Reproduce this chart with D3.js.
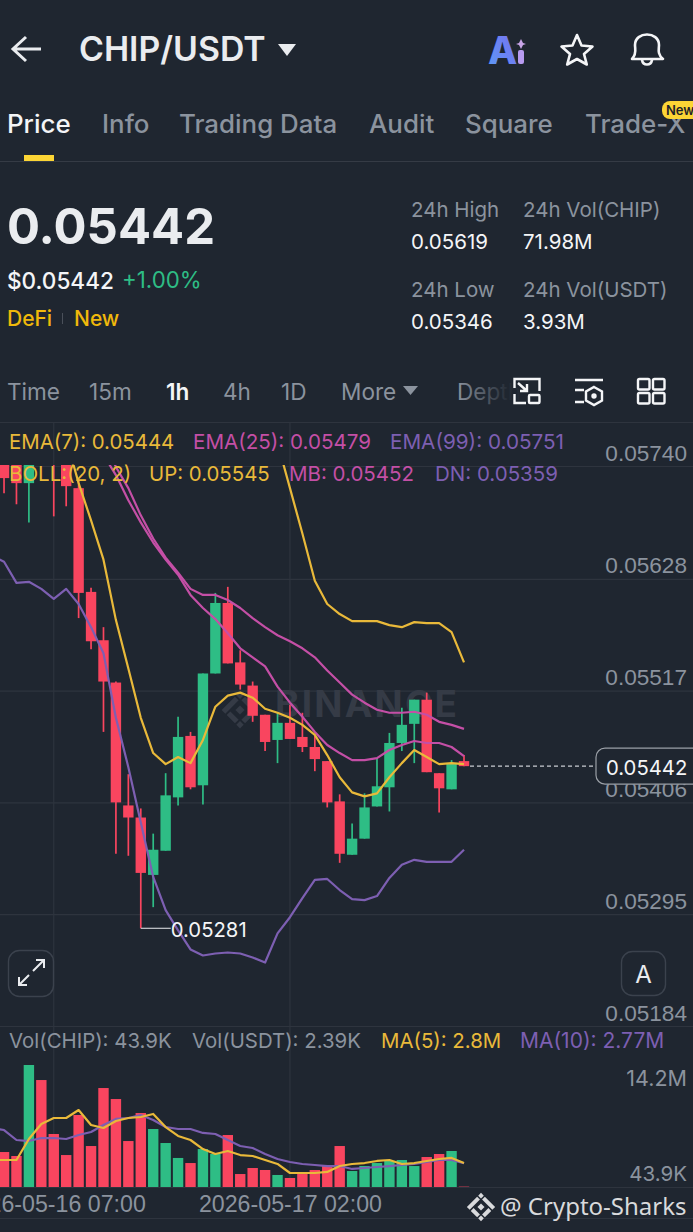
<!DOCTYPE html>
<html>
<head>
<meta charset="utf-8">
<title>CHIP/USDT</title>
<script src="https://cdn.jsdelivr.net/npm/d3@7"></script>
<style>
	html, body { margin: 0; padding: 0; background: #1f2630; }
	svg { display: block; font-family: Inter, "Noto Sans", sans-serif; }
</style>
</head>
<body>
<svg id="chart" width="693" height="1232"></svg>
<script>
// hourly candles, first one sits just off the left edge
var times = d3.utcHour.range(new Date(Date.UTC(2026, 4, 16, 2)), new Date(Date.UTC(2026, 4, 17, 17)));

var opens = [0.05770, 0.05751, 0.05756, 0.05723, 0.05790, 0.05775, 0.05770, 0.05718, 0.05615, 0.05567, 0.05525, 0.05403, 0.05391, 0.05334, 0.05358, 0.05411, 0.05472, 0.05423, 0.05534, 0.05604, 0.05545, 0.05522, 0.05493, 0.05468, 0.05485, 0.05471, 0.05461, 0.05447, 0.05407, 0.05354, 0.05370, 0.05402, 0.05421, 0.05465, 0.05484, 0.05508, 0.05435, 0.05419, 0.05447];
var closes = [0.05760, 0.05728, 0.05723, 0.05761, 0.05780, 0.05755, 0.05720, 0.05614, 0.05566, 0.05526, 0.05406, 0.05391, 0.05336, 0.05359, 0.05413, 0.05471, 0.05421, 0.05534, 0.05604, 0.05544, 0.05523, 0.05492, 0.05466, 0.05485, 0.05469, 0.05461, 0.05449, 0.05406, 0.05355, 0.05370, 0.05401, 0.05422, 0.05465, 0.05483, 0.05508, 0.05436, 0.05420, 0.05445, 0.05442];
var highs = [0.05780, 0.05760, 0.05765, 0.05770, 0.05800, 0.05790, 0.05790, 0.05726, 0.05619, 0.05580, 0.05526, 0.05434, 0.05400, 0.05375, 0.05435, 0.05491, 0.05476, 0.05534, 0.05614, 0.05620, 0.05557, 0.05526, 0.05493, 0.05495, 0.05503, 0.05495, 0.05473, 0.05447, 0.05414, 0.05385, 0.05415, 0.05450, 0.05475, 0.05500, 0.05508, 0.05515, 0.05435, 0.05448, 0.05453];
var lows = [0.05750, 0.05713, 0.05702, 0.05684, 0.05765, 0.05690, 0.05700, 0.05589, 0.05558, 0.05476, 0.05355, 0.05353, 0.05281, 0.05302, 0.05358, 0.05403, 0.05419, 0.05404, 0.05534, 0.05544, 0.05518, 0.05486, 0.05457, 0.05445, 0.05469, 0.05456, 0.05437, 0.05401, 0.05346, 0.05354, 0.05370, 0.05402, 0.05397, 0.05457, 0.05445, 0.05436, 0.05396, 0.05419, 0.05442];

var ema7 = [null, null, null, null, null, null, 0.05767, 0.05723, 0.05686, 0.05647, 0.05587, 0.05539, 0.05490, 0.05455, 0.05444, 0.05451, 0.05445, 0.05468, 0.05501, 0.05512, 0.05515, 0.05510, 0.05499, 0.05495, 0.05490, 0.05483, 0.05473, 0.05453, 0.05431, 0.05416, 0.05412, 0.05415, 0.05431, 0.05445, 0.05458, 0.05451, 0.05444, 0.05445, 0.05444];
var ema25 = [null, null, null, null, null, null, null, null, null, 0.05767, 0.05739, 0.05718, 0.05691, 0.05668, 0.05649, 0.05634, 0.05618, 0.05612, 0.05612, 0.05607, 0.05599, 0.05589, 0.05580, 0.05572, 0.05566, 0.05559, 0.05550, 0.05537, 0.05525, 0.05513, 0.05505, 0.05498, 0.05495, 0.05495, 0.05496, 0.05493, 0.05486, 0.05483, 0.05479];
var bollUp = [null, null, null, null, null, null, null, null, null, null, null, null, null, null, null, null, null, null, null, null, null, null, null, 0.05763, 0.05718, 0.05673, 0.05626, 0.05603, 0.05593, 0.05586, 0.05586, 0.05586, 0.05582, 0.05580, 0.05585, 0.05584, 0.05584, 0.05575, 0.05545];
var bollMb = [null, null, null, null, null, null, null, null, null, 0.05751, 0.05731, 0.05706, 0.05684, 0.05664, 0.05647, 0.05632, 0.05612, 0.05599, 0.05588, 0.05574, 0.05559, 0.05550, 0.05541, 0.05521, 0.05505, 0.05491, 0.05476, 0.05463, 0.05455, 0.05448, 0.05448, 0.05450, 0.05458, 0.05463, 0.05467, 0.05465, 0.05465, 0.05461, 0.05452];
var bollDn = [0.05651, 0.05645, 0.05624, 0.05625, 0.05618, 0.05608, 0.05618, 0.05603, 0.05580, 0.05554, 0.05490, 0.05441, 0.05386, 0.05332, 0.05299, 0.05279, 0.05260, 0.05254, 0.05256, 0.05257, 0.05256, 0.05252, 0.05247, 0.05276, 0.05292, 0.05311, 0.05329, 0.05330, 0.05319, 0.05310, 0.05309, 0.05313, 0.05331, 0.05344, 0.05349, 0.05347, 0.05347, 0.05347, 0.05359];

// volume in millions of CHIP
var volumes = [3.0, 4.07, 3.61, 14.2, 12.45, 6.17, 3.72, 8.38, 4.77, 11.52, 10.24, 5.35, 8.61, 6.75, 5.12, 3.38, 2.79, 4.42, 3.84, 6.05, 1.51, 2.21, 1.98, 1.40, 1.05, 1.51, 1.98, 2.44, 4.77, 1.86, 2.44, 2.79, 3.03, 3.14, 2.44, 3.49, 3.84, 4.19, 0.0439];
var ma5 = [3.14, 3.14, 3.14, 5.59, 7.33, 8.03, 8.03, 8.96, 7.22, 6.87, 7.68, 8.03, 8.15, 8.50, 6.98, 5.94, 5.47, 4.42, 3.84, 4.19, 3.72, 3.61, 3.14, 2.68, 1.63, 1.63, 1.63, 1.75, 2.44, 2.68, 2.79, 3.03, 3.14, 2.68, 2.79, 3.03, 3.26, 3.38, 2.8];
var ma10 = [6.87, 6.63, 5.47, 5.35, 5.70, 5.70, 5.59, 6.05, 6.40, 7.22, 7.92, 8.03, 8.38, 7.80, 6.98, 6.75, 6.75, 6.29, 6.17, 5.47, 4.77, 4.54, 3.84, 3.26, 2.91, 2.68, 2.56, 2.44, 2.44, 2.10, 2.21, 2.33, 2.44, 2.56, 2.68, 2.91, 3.14, 3.14, 2.77];

var priceTicks = [0.05740, 0.05628, 0.05517, 0.05406, 0.05295, 0.05184];
var lastPrice = 0.05442;
var lowIndex = 12;
var dateTicks = [new Date(Date.UTC(2026, 4, 16, 7)), new Date(Date.UTC(2026, 4, 17, 2))];

var tabs = ["Price", "Info", "Trading Data", "Audit", "Square", "Trade-X"];
var tabX = [7, 102, 179, 369, 465, 585];
var intervals = ["Time", "15m", "1h", "4h", "1D", "More"];
var intervalX = [7, 89, 166, 223, 281, 341];

var BG = "#1f2630", GRID = "#2e343e", GREEN = "#2ebd85", RED = "#f9455f";
var YELLOW = "#e9b93a", PINK = "#c44fa6", PURPLE = "#7d5fb2";
var GREY = "#8b939e", LIGHT = "#eaecef", WHITE = "#f4f5f7";

var svg = d3.select("#chart");
svg.append("rect").attr("width", 693).attr("height", 1232).attr("fill", BG);

function txt(parent, x, y, s, size, color, weight, anchor) {
	return parent.append("text").attr("x", x).attr("y", y).text(s)
		.attr("font-size", size).attr("fill", color)
		.attr("font-weight", weight || 400)
		.attr("text-anchor", anchor || "start");
}

function diamond(parent, cx, cy, s, color) {
	var g = parent.append("g").attr("transform", "translate(" + cx + "," + cy + ") rotate(45)").attr("fill", color);
	g.append("rect").attr("x", -s * 0.25).attr("y", -s * 0.25).attr("width", s * 0.5).attr("height", s * 0.5);
	g.append("rect").attr("x", -s).attr("y", -s).attr("width", s * 0.4).attr("height", s * 0.4);
	g.append("rect").attr("x", s * 0.6).attr("y", s * 0.6).attr("width", s * 0.4).attr("height", s * 0.4);
	g.append("rect").attr("x", -s * 0.45).attr("y", -s).attr("width", s * 1.45).attr("height", s * 0.4);
	g.append("rect").attr("x", -s).attr("y", -s * 0.45).attr("width", s * 0.4).attr("height", s * 1.45);
	g.append("rect").attr("x", s * 0.6).attr("y", -s * 0.45).attr("width", s * 0.4).attr("height", s * 0.9);
	g.append("rect").attr("x", -s * 0.45).attr("y", s * 0.6).attr("width", s * 0.9).attr("height", s * 0.4);
}

// ---- header ----
var head = svg.append("g");
head.append("path").attr("d", "M41,49H14M26,37L13,49L26,61").attr("fill", "none").attr("stroke", LIGHT).attr("stroke-width", 3);
txt(head, 79, 61, "CHIP/USDT", 33.8, LIGHT, 600);
head.append("path").attr("d", "M278,44H296L287,56Z").attr("fill", LIGHT);

var defs = svg.append("defs");
var aiGrad = defs.append("linearGradient").attr("id", "aiGrad").attr("x1", 0).attr("y1", 1).attr("x2", 1).attr("y2", 0);
aiGrad.append("stop").attr("offset", 0).attr("stop-color", "#5b9bf5");
aiGrad.append("stop").attr("offset", 1).attr("stop-color", "#7a6cf0");
txt(head, 488, 64, "A", 38, "url(#aiGrad)", 800);
head.append("rect").attr("x", 518).attr("y", 50).attr("width", 6).attr("height", 14).attr("rx", 2).attr("fill", "#b79af0");
head.append("path").attr("d", "M521,39L523,43L526,44L523,45L521,49L519,45L516,44L519,43Z").attr("fill", "#c9a5e8");
head.append("path").attr("d", "M577,35L581.5,45.5L592.5,46.5L584,54L586.8,64.5L577,59L567.2,64.5L570,54L561.500,46.5L572.5,45.5Z")
	.attr("fill", "none").attr("stroke", WHITE).attr("stroke-width", 2.6).attr("stroke-linejoin", "round");
head.append("path").attr("d", "M632,59C637,54 635,49 635,45C635,31 659,31 659,45C659,49 657,54 663,59Z M642,60C643,66 651,66 652,60")
	.attr("fill", "none").attr("stroke", WHITE).attr("stroke-width", 2.6).attr("stroke-linejoin", "round");

var tabG = svg.append("g");
tabs.forEach(function(t, i) {
	txt(tabG, tabX[i], 133, t, 25.9, i === 0 ? WHITE : GREY, 500);
});
tabG.append("rect").attr("x", 24).attr("y", 155).attr("width", 30).attr("height", 6).attr("fill", "#fcd535");
tabG.append("rect").attr("x", 0).attr("y", 161).attr("width", 693).attr("height", 1).attr("fill", "#353b45");
tabG.append("rect").attr("x", 662).attr("y", 101).attr("width", 40).attr("height", 18).attr("rx", 8).attr("fill", "#fcd535");
txt(tabG, 666, 115, "New", 13, "#1e2329", 600);

// ---- price block ----
var info = svg.append("g");
txt(info, 7, 244, "0.05442", 49, LIGHT, 700);
txt(info, 7, 289, "$0.05442", 22.6, WHITE, 500);
txt(info, 122, 288, "+1.00%", 22.3, GREEN, 400);
txt(info, 7, 326, "DeFi", 21, "#f0b90b", 500);
info.append("rect").attr("x", 62).attr("y", 313).attr("width", 1).attr("height", 11).attr("fill", "#4a505a");
txt(info, 74, 326, "New", 21, "#f0b90b", 500);
txt(info, 411, 217, "24h High", 20.5, GREY);
txt(info, 411, 249, "0.05619", 20.5, WHITE);
txt(info, 523, 217, "24h Vol(CHIP)", 20.5, GREY);
txt(info, 523, 249, "71.98M", 20.5, WHITE);
txt(info, 411, 297, "24h Low", 20.5, GREY);
txt(info, 411, 329, "0.05346", 20.5, WHITE);
txt(info, 523, 297, "24h Vol(USDT)", 20.5, GREY);
txt(info, 523, 329, "3.93M", 20.5, WHITE);

// ---- interval row ----
var row = svg.append("g");
intervals.forEach(function(t, i) {
	txt(row, intervalX[i], 400, t, 22.6, t === "1h" ? WHITE : GREY, t === "1h" ? 600 : 400);
});
row.append("path").attr("d", "M403,386H418L410.500,395Z").attr("fill", GREY);
var fade = defs.append("linearGradient").attr("id", "fade").attr("gradientUnits", "userSpaceOnUse")
	.attr("x1", 457).attr("y1", 0).attr("x2", 508).attr("y2", 0);
fade.append("stop").attr("offset", 0).attr("stop-color", GREY);
fade.append("stop").attr("offset", 1).attr("stop-color", GREY).attr("stop-opacity", 0.05);
txt(row, 457, 400, "Depth", 22.6, "url(#fade)");
var ic = row.append("g").attr("fill", "none").attr("stroke", WHITE).attr("stroke-width", 2.4);
ic.append("path").attr("d", "M514.500,388V379H539.500V391M514.500,394V403H526");
ic.append("rect").attr("x", 529).attr("y", 395).attr("width", 10.500).attr("height", 8).attr("rx", 1);
ic.append("path").attr("d", "M518,383L527,391M527,384V391H520");
ic.append("path").attr("d", "M575,380H603M575,390H584M575,402H584");
ic.append("path").attr("d", "M594,387L602,391.500V400.500L594,405L586,400.500V391.500Z");
ic.append("circle").attr("cx", 594).attr("cy", 396).attr("r", 1.5).attr("fill", WHITE);
[638, 653].forEach(function(x) {
	[379, 393].forEach(function(y) {
		ic.append("rect").attr("x", x).attr("y", y).attr("width", 11.500).attr("height", 10.500).attr("rx", 1.5);
	});
});

// ---- scales ----
var x = d3.scalePoint().domain(times).range([-8.4, 464]);
var y = d3.scaleLinear().domain([0.05184, 0.05740]).range([1026, 466]);
var yVol = d3.scaleLinear().domain([0, 14.2]).range([1187, 1065]);
var barW = 10.4;

svg.append("rect").attr("x", 0).attr("y", 422).attr("width", 693).attr("height", 1).attr("fill", GRID);
svg.append("rect").attr("x", 0).attr("y", 1187).attr("width", 693).attr("height", 1).attr("fill", GRID);
svg.append("rect").attr("x", 0).attr("y", 1218).attr("width", 693).attr("height", 1).attr("fill", GRID);

// axes with their grid lines
var xAxis = d3.axisBottom(d3.scaleUtc().domain([times[0], times[times.length - 1]]).range([-8.4, 464]))
	.tickValues(dateTicks).tickSize(0).tickFormat(d3.utcFormat("%Y-%m-%d %H:%M"));
var xG = svg.append("g").attr("transform", "translate(0,1187)").call(xAxis);
xG.select(".domain").remove();
xG.selectAll("text").attr("y", 25).attr("dy", 0).attr("font-size", 23.2).attr("font-family", "inherit").attr("fill", GREY);
svg.selectAll(".vgrid").data(dateTicks).enter().append("line").attr("class", "vgrid")
	.attr("x1", function(d) { return x(times.find(function(t) { return +t === +d; })); })
	.attr("x2", function(d) { return x(times.find(function(t) { return +t === +d; })); })
	.attr("y1", 423).attr("y2", 1187).attr("stroke", GRID).attr("stroke-width", 1.2);

var yAxis = d3.axisLeft(y).tickValues(priceTicks).tickSize(693).tickFormat(d3.format(".5f"));
var yG = svg.append("g").attr("transform", "translate(693,0)").call(yAxis);
yG.select(".domain").remove();
yG.selectAll("line").attr("stroke", GRID).attr("stroke-width", 1.2);
yG.selectAll("text").attr("x", -6).attr("dy", -6).attr("font-size", 22.6).attr("font-family", "inherit").attr("fill", GREY);

var volLabels = svg.append("g");
txt(volLabels, 687, 1086, "14.2M", 21.5, GREY, 400, "end");
txt(volLabels, 687, 1181, "43.9K", 20.5, GREY, 400, "end");

// watermark under the candles
var wm = svg.append("g");
diamond(wm, 240, 710, 13, "#353b46");
txt(wm, 275, 717, "BINANCE", 37, "#353b46", 700).attr("letter-spacing", 2.2);

// ---- price pane ----
defs.append("clipPath").attr("id", "plot").append("rect").attr("x", 0).attr("y", 465).attr("width", 693).attr("height", 561);
var plot = svg.append("g").attr("clip-path", "url(#plot)");
var rows = times.map(function(t, i) {
	return { t: t, o: opens[i], c: closes[i], h: highs[i], l: lows[i], v: volumes[i] };
});
function col(d) { return d.c >= d.o ? GREEN : RED; }

plot.selectAll(".wick").data(rows).enter().append("line").attr("class", "wick")
	.attr("x1", function(d) { return x(d.t); }).attr("x2", function(d) { return x(d.t); })
	.attr("y1", function(d) { return y(d.h); }).attr("y2", function(d) { return y(d.l); })
	.attr("stroke", col).attr("stroke-width", 1.7);
plot.selectAll(".body").data(rows).enter().append("rect").attr("class", "body")
	.attr("x", function(d) { return x(d.t) - barW / 2; }).attr("width", barW)
	.attr("y", function(d) { return y(Math.max(d.o, d.c)); })
	.attr("height", function(d) { return Math.max(1, Math.abs(y(d.o) - y(d.c))); })
	.attr("fill", col);

function drawLine(parent, values, scale, color, w) {
	var line = d3.line()
		.defined(function(d) { return d != null; })
		.x(function(d, i) { return x(times[i]); })
		.y(function(d) { return scale(d); });
	parent.append("path").attr("d", line(values)).attr("fill", "none")
		.attr("stroke", color).attr("stroke-width", w || 2.2).attr("stroke-linejoin", "round");
}
drawLine(plot, bollDn, y, PURPLE);
drawLine(plot, bollUp, y, YELLOW);
drawLine(plot, bollMb, y, PINK);
drawLine(plot, ema25, y, PINK);
drawLine(plot, ema7, y, YELLOW);

// low marker
var lowX = x(times[lowIndex]), lowY = y(lows[lowIndex]);
plot.append("line").attr("x1", lowX).attr("x2", lowX + 30).attr("y1", lowY).attr("y2", lowY).attr("stroke", "#c9ccd1").attr("stroke-width", 1.2);
txt(svg, lowX + 30, lowY + 9, d3.format(".5f")(lows[lowIndex]), 20.3, WHITE);

// last price tag
var lastY = y(lastPrice);
svg.append("line").attr("x1", x(times[times.length - 1]) + 6).attr("x2", 596).attr("y1", lastY).attr("y2", lastY)
	.attr("stroke", "#c9ccd1").attr("stroke-width", 1.2).attr("stroke-dasharray", "4 3");
svg.append("rect").attr("x", 596).attr("y", lastY - 18).attr("width", 110).attr("height", 36).attr("rx", 9)
	.attr("fill", BG).attr("stroke", "#9a9fa6").attr("stroke-width", 1.2);
txt(svg, 606, lastY + 9, d3.format(".5f")(lastPrice), 20.3, WHITE);

// buttons
var btn = svg.append("g").attr("fill", "none");
btn.append("rect").attr("x", 8.5).attr("y", 950.5).attr("width", 45).attr("height", 46).attr("rx", 11).attr("stroke", "#3b424d").attr("stroke-width", 1.4);
btn.append("path").attr("d", "M33,971L44,960M36,960H44V968M29,975L19,985M19,977V985H27").attr("stroke", LIGHT).attr("stroke-width", 2);
btn.append("rect").attr("x", 621.5).attr("y", 951.5).attr("width", 44).attr("height", 44).attr("rx", 11).attr("stroke", "#3b424d").attr("stroke-width", 1.4);
txt(svg, 643.5, 983, "A", 24, LIGHT, 400, "middle");

// ---- legends ----
var lg = svg.append("g");
txt(lg, 9, 449, "EMA(7): 0.05444", 20.4, YELLOW);
txt(lg, 193, 449, "EMA(25): 0.05479", 20.6, PINK);
txt(lg, 390, 449, "EMA(99): 0.05751", 20.7, PURPLE);
txt(lg, 9, 481, "BOLL:(20, 2)", 20.5, YELLOW);
txt(lg, 149, 481, "UP: 0.05545", 20.4, YELLOW);
txt(lg, 289, 481, "MB: 0.05452", 20.5, PINK);
txt(lg, 435, 481, "DN: 0.05359", 20.5, PURPLE);
txt(lg, 9, 1048, "Vol(CHIP): 43.9K", 20.4, GREY);
txt(lg, 192, 1048, "Vol(USDT): 2.39K", 20.4, GREY);
txt(lg, 381, 1048, "MA(5): 2.8M", 20.4, YELLOW);
txt(lg, 520, 1048, "MA(10): 2.77M", 21, PURPLE);

// ---- volume pane ----
var vol = svg.append("g");
vol.selectAll(".vbar").data(rows).enter().append("rect").attr("class", "vbar")
	.attr("x", function(d) { return x(d.t) - barW / 2; }).attr("width", barW)
	.attr("y", function(d) { return yVol(d.v); })
	.attr("height", function(d) { return yVol(0) - yVol(d.v); })
	.attr("fill", col);
drawLine(vol, ma10, yVol, PURPLE);
drawLine(vol, ma5, yVol, YELLOW);

// credit
var credit = svg.append("g");
diamond(credit, 481, 1207, 10, "#d9dadc");
txt(credit, 500, 1215, "@ Crypto-Sharks", 24, "#d9dadc").attr("font-family", "'Noto Sans'");
</script>
</body>
</html>
